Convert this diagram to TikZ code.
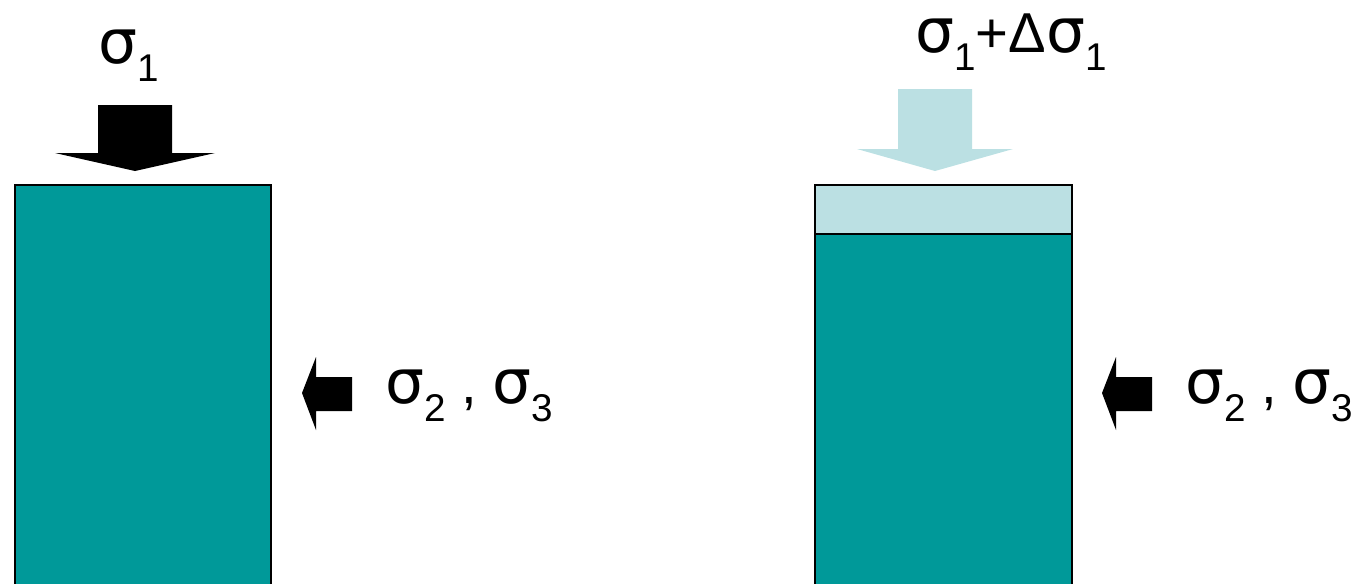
\documentclass[tikz,border=0pt]{standalone}
\usepackage{fontspec}
\setmainfont{Liberation Sans}
\newfontfamily\greekfont{DejaVu Sans}
\usetikzlibrary{positioning}
\definecolor{rockteal}{RGB}{0,153,153}
\definecolor{loadblue}{RGB}{187,224,227}
\newcommand{\sg}{{\greekfont\fontsize{35}{38}\selectfont σ}}
\newcommand{\sub}[1]{\raisebox{-0.33em}{\fontsize{22}{22}\selectfont #1}}
\tikzset{
    specimen/.style={draw=black, line width=1.2pt, fill=rockteal},
    increment/.style={draw=black, line width=1.2pt, fill=loadblue},
    loadarrow/.style={fill=black},
    deltaarrow/.style={fill=loadblue},
    stresslabel/.style={font=\fontsize{32}{38}\selectfont, inner sep=0pt}
}

\begin{document}
\begin{tikzpicture}[x=0.02cm, y=-0.02cm]
    \useasboundingbox (0,0) rectangle (1368,583);

    % Left specimen under sigma_1
    \draw[specimen] (15,185) rectangle (271,600);
    \fill[loadarrow] (98,105) -- (172,105) -- (172,153) -- (215,153) -- (135,171)
        -- (55,153) -- (98,153) -- cycle;
    \node[stresslabel, anchor=base west] (s1) at (98,63) {\sg\sub{1}};
    \fill[loadarrow] (352,377) -- (352,411) -- (316,411) -- (316,430) -- (302,393)
        -- (316,357) -- (316,377) -- cycle;
    \node[stresslabel, anchor=base west] (s23left) at (385,403) {\sg\sub{2} , \sg\sub{3}};

    % Right specimen with added load
    \draw[specimen] (815,234) rectangle (1072,600);
    \draw[increment] (815,185) rectangle (1072,234);
    \fill[deltaarrow] (898,89) -- (972,89) -- (972,149) -- (1013,149) -- (935,171)
        -- (857,149) -- (898,149) -- cycle;
    \node[stresslabel, anchor=base west] (s1d) at (915,52) {\sg\sub{1}+Δ\sg\sub{1}};
    \fill[loadarrow] (1152,377) -- (1152,411) -- (1116,411) -- (1116,430) -- (1102,393)
        -- (1116,357) -- (1116,377) -- cycle;
    \node[stresslabel, anchor=base west] (s23right) at (1185,403) {\sg\sub{2} , \sg\sub{3}};
\end{tikzpicture}
\end{document}
